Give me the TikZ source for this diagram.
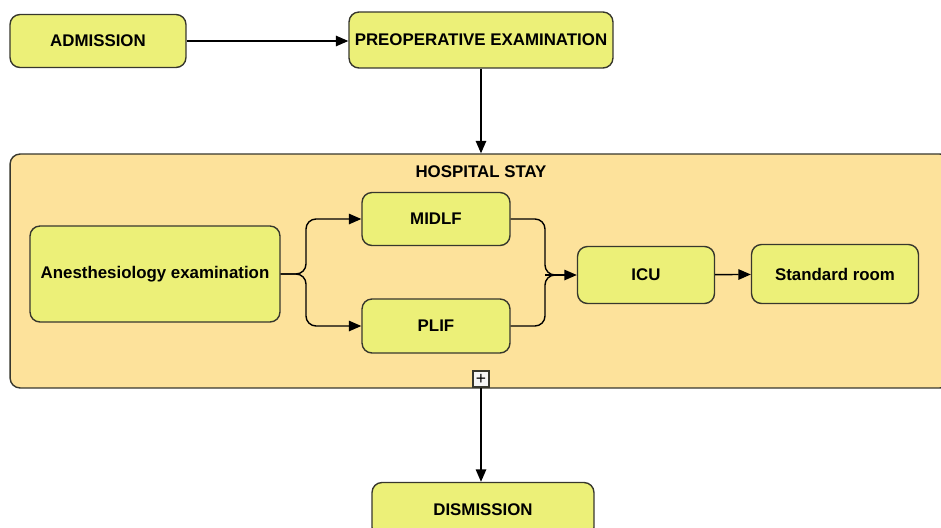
\documentclass[tikz,border=0pt]{standalone}
\usepackage{fontspec}
\setmainfont{Liberation Sans}
\usetikzlibrary{arrows.meta}
\definecolor{boxfill}{RGB}{236,240,120}
\definecolor{stayfill}{RGB}{253,226,155}
\definecolor{boxline}{RGB}{55,55,45}
\begin{document}
\begin{tikzpicture}[x=0.02cm,y=-0.02cm,line width=0.8pt]
		\tikzset{step box/.style = {draw=boxline, fill=boxfill, rounded corners=0.2cm, font=\fontsize{9.6}{11}\selectfont\bfseries, inner sep=1pt}}
		\tikzset{edge/.style = {draw, -{Triangle[length=2.5mm,width=2.1mm]}}}
		\tikzset{merge line/.style = {draw, rounded corners=0.2cm}}
		
		\useasboundingbox (0,0) rectangle (941,528);
		\clip (0,0) rectangle (941,528);
		
		% container
		\node[draw=boxline, fill=stayfill, rounded corners=0.2cm, minimum width=18.8cm, minimum height=4.68cm] (stay) at (480,271) {};
		\node[font=\fontsize{9.6}{11}\selectfont\bfseries] (stay title) at (481,172) {HOSPITAL STAY};
		\node[draw=boxline, fill=gray!8, minimum size=0.32cm, inner sep=0pt, line width=0.6pt] (plus) at (481,379) {+};
		
		% nodes
		\node[step box, minimum width=3.52cm, minimum height=1.06cm] (admission) at (98,41) {ADMISSION};
		\node[step box, minimum width=5.28cm, minimum height=1.12cm] (preop) at (481,40) {PREOPERATIVE EXAMINATION};
		\node[step box, minimum width=5cm, minimum height=1.92cm] (anes) at (155,274) {Anesthesiology examination};
		\node[step box, minimum width=2.96cm, minimum height=1.06cm] (midlf) at (436,219) {MIDLF};
		\node[step box, minimum width=2.96cm, minimum height=1.08cm] (plif) at (436,326) {PLIF};
		\node[step box, minimum width=2.74cm, minimum height=1.14cm] (icu) at (646,275) {ICU};
		\node[step box, minimum width=3.34cm, minimum height=1.18cm] (room) at (835,274) {Standard room};
		\node[step box, minimum width=4.44cm, minimum height=1.1cm] (dismission) at (483,510) {DISMISSION};
		\coordinate (split) at (306,274);
		\coordinate (merge) at (545,275);
		
		% edges
		\draw[edge] (admission.east) -- (admission.east -| preop.west);
		\draw[edge] (preop.south) -- (preop.south |- stay.north);
		\draw[edge, rounded corners=0.2cm] (anes.east) -- (split) |- (midlf.west);
		\draw[edge, rounded corners=0.2cm] (anes.east) -- (split) |- (plif.west);
		\draw[merge line] (midlf.east) -| (merge) -- ++(15,0);
		\draw[merge line] (plif.east) -| (merge) -- ++(15,0);
		\draw[edge] (merge) -- (icu.west);
		\draw[edge] (icu) -- (room);
		\draw[edge] (plus.south) -- (plus.south |- dismission.north);
		\end{tikzpicture}
\end{document}
